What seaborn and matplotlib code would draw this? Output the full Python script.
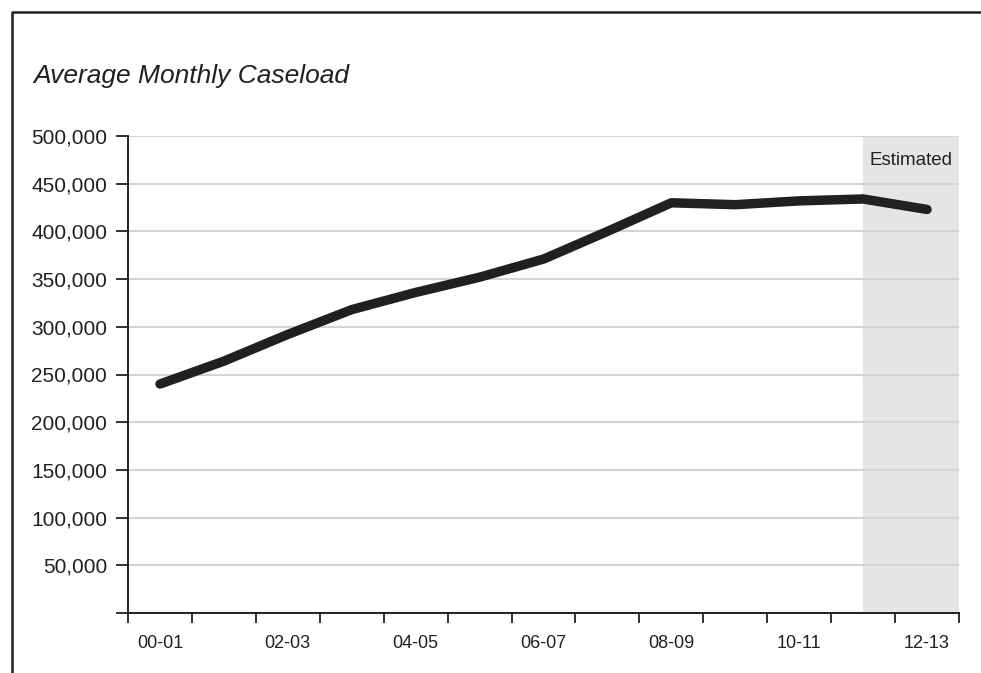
import pandas as pd
import matplotlib.pyplot as plt
import seaborn as sns
from matplotlib.lines import Line2D
from matplotlib.ticker import FuncFormatter, FixedLocator

years = ["00-01", "01-02", "02-03", "03-04", "04-05", "05-06", "06-07",
         "07-08", "08-09", "09-10", "10-11", "11-12", "12-13"]
caseload = [240000, 264000, 292000, 318000, 336000, 352000, 371000,
            400000, 430000, 428000, 432000, 434000, 423000]
labelled_years = ["00-01", "02-03", "04-05", "06-07", "08-09", "10-11", "12-13"]
estimate_from = "11-12"

INK = "#231f20"


def build_frame():
    df = pd.DataFrame({"year": years, "caseload": caseload})
    df["pos"] = range(len(df))
    return df


def draw(df):
    sns.set_style("white")
    plt.rcParams["font.family"] = ["Liberation Sans", "DejaVu Sans"]

    fig = plt.figure(figsize=(9.81, 6.73), dpi=100)
    ax = fig.add_axes([128 / 981, 1 - 613 / 673, 831 / 981, 477 / 673])

    # shaded estimate region
    start = years.index(estimate_from)
    ax.axvspan(start, len(years) - 0.5, color="#e5e5e5", lw=0, zorder=0)

    sns.lineplot(data=df, x="pos", y="caseload", color=INK, lw=6.8,
                 solid_capstyle="round", solid_joinstyle="round", ax=ax, zorder=3)

    ax.set_xlim(-0.5, len(years) - 0.5)
    ax.set_ylim(0, 500000)

    # y axis
    ax.set_yticks(range(0, 500001, 50000))
    ax.yaxis.set_major_formatter(FuncFormatter(lambda v, p: "" if v == 0 else f"{int(v):,}"))
    ax.yaxis.grid(True, color="#d4d4d4", lw=1.5, zorder=1)
    ax.set_axisbelow(True)

    # x axis: boundary ticks, labels centred on categories
    ax.xaxis.set_major_locator(FixedLocator([i - 0.5 for i in range(len(years) + 1)]))
    ax.xaxis.set_major_formatter(FuncFormatter(lambda v, p: ""))
    ax.xaxis.set_minor_locator(FixedLocator([years.index(y) for y in labelled_years]))
    ax.set_xticklabels(labelled_years, minor=True)

    ax.tick_params(axis="x", which="major", length=7.5, width=1.3, color=INK, direction="out", bottom=True)
    ax.tick_params(axis="x", which="minor", length=0, pad=16, labelsize=13, labelcolor=INK)
    ax.tick_params(axis="y", length=9, width=1.3, color=INK, pad=6, labelsize=15,
                   labelcolor=INK, left=True)

    for side in ["top", "right"]:
        ax.spines[side].set_visible(False)
    for side in ["left", "bottom"]:
        ax.spines[side].set_color(INK)
        ax.spines[side].set_linewidth(1.4)
    ax.spines["bottom"].set_zorder(4)

    ax.set_xlabel("")
    ax.set_ylabel("")

    ax.text((start + len(years) - 0.5) / 2, 474000, "Estimated", ha="center", va="center",
            fontsize=13.5, color=INK)

    fig.text(33 / 981, 1 - 83 / 673, "Average Monthly Caseload", fontsize=19,
             style="italic", color=INK, ha="left", va="baseline")

    # outer frame (top and left edges)
    fig.add_artist(Line2D([12 / 981, 12 / 981, 1.0], [0.0, 1 - 12 / 673, 1 - 12 / 673],
                          transform=fig.transFigure, color=INK, lw=1.8))

    fig.savefig("out.png", dpi=100)


def main():
    draw(build_frame())


if __name__ == "__main__":
    main()
